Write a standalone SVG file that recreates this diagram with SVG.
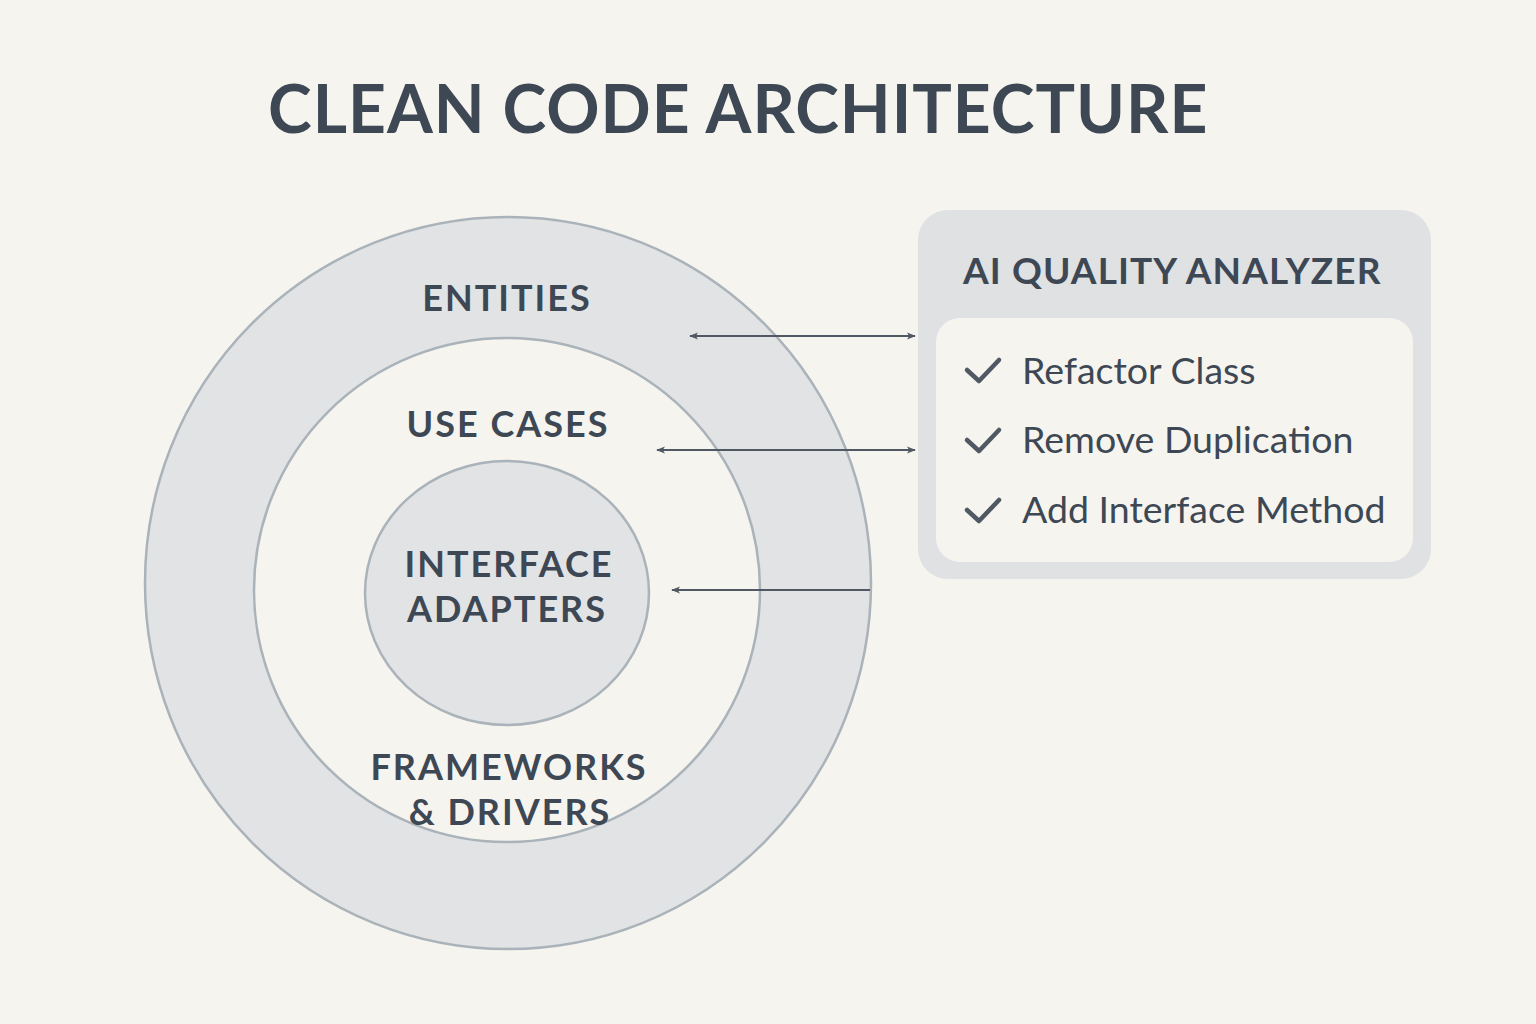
<svg xmlns="http://www.w3.org/2000/svg" width="1536" height="1024" viewBox="0 0 1536 1024">
  <style>
    .ink { fill: #3e4854; font-family: Lato, "Noto Sans", "Liberation Sans", sans-serif; }
    .title { font-size: 66px; font-weight: 700; letter-spacing: 1px; }
    .layer { font-size: 36px; font-weight: 700; letter-spacing: 2px; text-anchor: middle; }
    .head { font-size: 37px; font-weight: 700; letter-spacing: 1.1px; }
    .item { font-size: 37.5px; font-weight: 400; }
    .ring { stroke: #aab3ba; stroke-width: 2.5; }
    .conn { stroke: #4f5863; stroke-width: 2; fill: none; }
    .check { stroke: #4f5863; stroke-width: 4.5; fill: none; stroke-linecap: round; stroke-linejoin: round; }
  </style>
  <defs>
    <marker id="head" viewBox="0 0 10 10" refX="9" refY="5" markerWidth="9" markerHeight="9" markerUnits="userSpaceOnUse" orient="auto-start-reverse">
      <path d="M0,1 L10,5 L0,9 L2.5,5 Z" fill="#4f5863"/>
    </marker>
  </defs>

  <rect width="1536" height="1024" fill="#f6f4ef"/>

  <text class="ink title" x="268" y="133">CLEAN CODE ARCHITECTURE</text>

  <!-- concentric layers -->
  <g id="entities">
    <ellipse cx="508" cy="583" rx="363" ry="366" fill="#e1e3e4" class="ring"/>
    <text class="ink layer" x="507" y="311">ENTITIES</text>
  </g>
  <g id="use-cases">
    <ellipse cx="507" cy="590" rx="253" ry="252" fill="#f6f4ef" class="ring"/>
    <text class="ink layer" x="508" y="437">USE CASES</text>
  </g>
  <g id="interface-adapters">
    <ellipse cx="507" cy="593" rx="142" ry="132" fill="#e1e3e4" class="ring"/>
    <text class="ink layer" x="509" y="577">INTERFACE</text>
    <text class="ink layer" x="507" y="622">ADAPTERS</text>
  </g>
  <g id="frameworks-drivers">
    <text class="ink layer" x="509" y="780">FRAMEWORKS</text>
    <text class="ink layer" x="510" y="825">&amp; DRIVERS</text>
  </g>

  <!-- analyzer panel -->
  <g id="ai-quality-analyzer">
    <rect x="918" y="210" width="513" height="369" rx="30" fill="#dfe1e3"/>
    <text class="ink head" x="963" y="284">AI QUALITY ANALYZER</text>
    <rect x="936" y="318" width="477" height="244" rx="24" fill="#f6f4ef"/>
    <path class="check" d="M967,370 L979,381 L999,360"/>
    <text class="ink item" x="1022" y="384">Refactor Class</text>
    <path class="check" d="M967,440 L979,451 L999,430"/>
    <text class="ink item" x="1022" y="453">Remove Duplication</text>
    <path class="check" d="M967,510 L979,521 L999,500"/>
    <text class="ink item" x="1022" y="523">Add Interface Method</text>
  </g>

  <!-- connectors -->
  <g id="connectors">
    <line class="conn" x1="690" y1="336" x2="915" y2="336" marker-start="url(#head)" marker-end="url(#head)"/>
    <line class="conn" x1="657" y1="450" x2="915" y2="450" marker-start="url(#head)" marker-end="url(#head)"/>
    <line class="conn" x1="870" y1="590" x2="672" y2="590" marker-end="url(#head)"/>
  </g>
</svg>
